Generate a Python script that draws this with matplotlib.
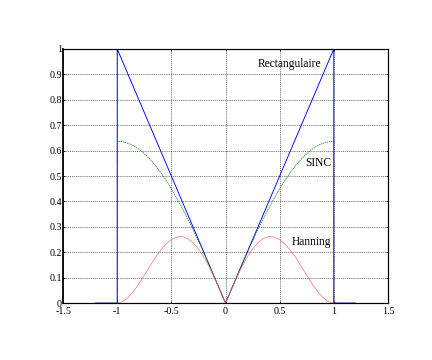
import numpy as np
import matplotlib
matplotlib.use('Agg')
import matplotlib.pyplot as plt

plt.rcParams['font.family'] = ['Liberation Serif', 'DejaVu Serif']

# x positions (a jump is stored as two points at +-1)
x = [-1.2, -1.0, -1.0, -0.95, -0.9, -0.85, -0.8, -0.75, -0.7, -0.65, -0.6,
     -0.55, -0.5, -0.45, -0.4, -0.35, -0.3, -0.25, -0.2, -0.15, -0.1, -0.05,
     0.0, 0.05, 0.1, 0.15, 0.2, 0.25, 0.3, 0.35, 0.4, 0.45, 0.5, 0.55, 0.6,
     0.65, 0.7, 0.75, 0.8, 0.85, 0.9, 0.95, 1.0, 1.0, 1.2]

rect = [0, 0, 1.0, 0.95, 0.9, 0.85, 0.8, 0.75, 0.7, 0.65, 0.6,
        0.55, 0.5, 0.45, 0.4, 0.35, 0.3, 0.25, 0.2, 0.15, 0.1, 0.05,
        0.0, 0.05, 0.1, 0.15, 0.2, 0.25, 0.3, 0.35, 0.4, 0.45, 0.5, 0.55, 0.6,
        0.65, 0.7, 0.75, 0.8, 0.85, 0.9, 0.95, 1.0, 0, 0]

sinc = [0, 0, 0.637, 0.635, 0.629, 0.619, 0.606, 0.588, 0.567, 0.543, 0.515,
        0.484, 0.450, 0.413, 0.374, 0.333, 0.289, 0.244, 0.197, 0.149, 0.100, 0.050,
        0.0, 0.050, 0.100, 0.149, 0.197, 0.244, 0.289, 0.333, 0.374, 0.413, 0.450,
        0.484, 0.515, 0.543, 0.567, 0.588, 0.606, 0.619, 0.629, 0.635, 0.637, 0, 0]

hanning = [0, 0, 0, 0.006, 0.022, 0.046, 0.076, 0.110, 0.144, 0.178, 0.207,
           0.232, 0.250, 0.260, 0.262, 0.254, 0.238, 0.213, 0.181, 0.142, 0.098, 0.050,
           0.0, 0.050, 0.098, 0.142, 0.181, 0.213, 0.238, 0.254, 0.262, 0.260, 0.250,
           0.232, 0.207, 0.178, 0.144, 0.110, 0.076, 0.046, 0.022, 0.006, 0, 0, 0]

labels = ['Rectangulaire', 'SINC', 'Hanning']
label_x = [0.59, 0.855, 0.795]
label_y = [0.94, 0.55, 0.24]

fig = plt.figure(figsize=(6, 5), dpi=72)
ax = fig.add_axes([0.146, 0.158, 0.752, 0.706])

ax.plot(x, rect, color='#0000ff', linewidth=0.9)
ax.plot(x, sinc, color='#008000', linewidth=0.7, linestyle=(0, (2, 1)))
ax.plot(x, hanning, color='#ff5a5a', linewidth=0.6)

for s, tx, ty in zip(labels, label_x, label_y):
    ax.text(tx, ty, s, ha='center', va='center', fontsize=11.5)

ax.set_xlim(-1.5, 1.5)
ax.set_ylim(0, 1)
ax.set_xticks(np.arange(-1.5, 1.51, 0.5))
ax.set_xticklabels(['-1.5', '-1', '-0.5', '0', '0.5', '1', '1.5'])
ax.set_yticks(np.arange(0, 1.01, 0.1))
ax.set_yticklabels(['0', '0.1', '0.2', '0.3', '0.4', '0.5', '0.6', '0.7', '0.8', '0.9', '1'])
ax.tick_params(direction='in', top=True, right=True, labelsize=10, length=2)
ax.tick_params(axis='y', pad=1)
ax.tick_params(axis='x', pad=4)
ax.grid(True, color='#333333', linestyle=(0, (2, 1.5)), linewidth=0.6)
for sp in ax.spines.values():
    sp.set_linewidth(1.2)
ax.spines['left'].set_linewidth(1.8)

fig.savefig('out.png', dpi=72)
